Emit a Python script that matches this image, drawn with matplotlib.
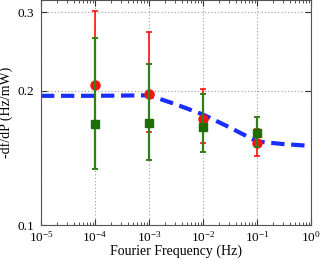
import matplotlib
matplotlib.use("Agg")
import matplotlib.pyplot as plt
from matplotlib.ticker import LogLocator, FixedLocator, NullFormatter, NullLocator

plt.rcParams['font.family'] = ['Liberation Serif', 'DejaVu Serif']
plt.rcParams['mathtext.fontset'] = 'stix'

# Data
freq = [1e-4, 1e-3, 1e-2, 1e-1]
red_val = [0.206, 0.197, 0.173, 0.153]
red_lo = [0.165, 0.162, 0.153, 0.143]
red_hi = [0.302, 0.271, 0.2015, 0.1643]
green_val = [0.1685, 0.169, 0.1662, 0.1605]
green_lo = [0.1335, 0.1399, 0.1458, 0.1493]
green_hi = [0.263, 0.2293, 0.1973, 0.1746]
fit_x = [1e-5, 1e-4, 1e-3, 3e-3, 1e-2, 3e-2, 1e-1, 3e-1, 1]
fit_y = [0.195, 0.195, 0.1955, 0.187, 0.177, 0.166, 0.154, 0.152, 0.1505]
yticks = [0.1, 0.2, 0.3]
ytick_labels = ['0.1', '0.2', '0.3']

fig = plt.figure(figsize=(3.2, 2.6), dpi=100)
ax = fig.add_axes([41/320, 35/260, 270/320, 225/260])

ax.plot(fit_x, fit_y, color='#1a2eff', lw=3, dashes=(3.2, 1.6), zorder=2)

r_err = [[v - l for v, l in zip(red_val, red_lo)], [h - v for v, h in zip(red_val, red_hi)]]
g_err = [[v - l for v, l in zip(green_val, green_lo)], [h - v for v, h in zip(green_val, green_hi)]]
ax.errorbar(freq, red_val, yerr=r_err, fmt='o', color='#ff1010', ms=6.5, elinewidth=1.2,
            capsize=2.5, capthick=1.2, zorder=3)
ax.errorbar(freq, green_val, yerr=g_err, fmt='s', color='#1f6e05', ecolor='#2f8018', ms=6,
            elinewidth=1.6, capsize=2.5, capthick=1.4, zorder=4)

ax.set_xscale('log')
ax.set_yscale('log')
ax.set_xlim(1e-5, 1)
ax.set_ylim(0.1, 0.32)
ax.xaxis.set_major_locator(LogLocator(base=10, numticks=10))
ax.xaxis.set_minor_locator(LogLocator(base=10, subs=range(2, 10), numticks=20))
ax.xaxis.set_minor_formatter(NullFormatter())
ax.yaxis.set_major_locator(FixedLocator(yticks))
ax.set_yticklabels(ytick_labels)
ax.yaxis.set_minor_locator(NullLocator())
ax.yaxis.set_minor_formatter(NullFormatter())

ax.grid(True, which='major', ls=(0, (1, 2)), color='#999999', lw=0.8)
ax.tick_params(which='both', direction='in', top=True, right=True, labelsize=9.5, colors='#333333',
               labelcolor='black')
ax.tick_params(axis='x', pad=3.5)
ax.tick_params(axis='y', pad=5)
ax.tick_params(which='major', length=4)
ax.tick_params(which='minor', length=2)
for s in ax.spines.values():
    s.set_color('#555555')
    s.set_linewidth(0.8)

ax.set_xlabel('Fourier Frequency (Hz)', fontsize=10, labelpad=0)
ax.set_ylabel('-df/dP (Hz/mW)', fontsize=10, labelpad=3)

fig.savefig('out.png', dpi=100)
